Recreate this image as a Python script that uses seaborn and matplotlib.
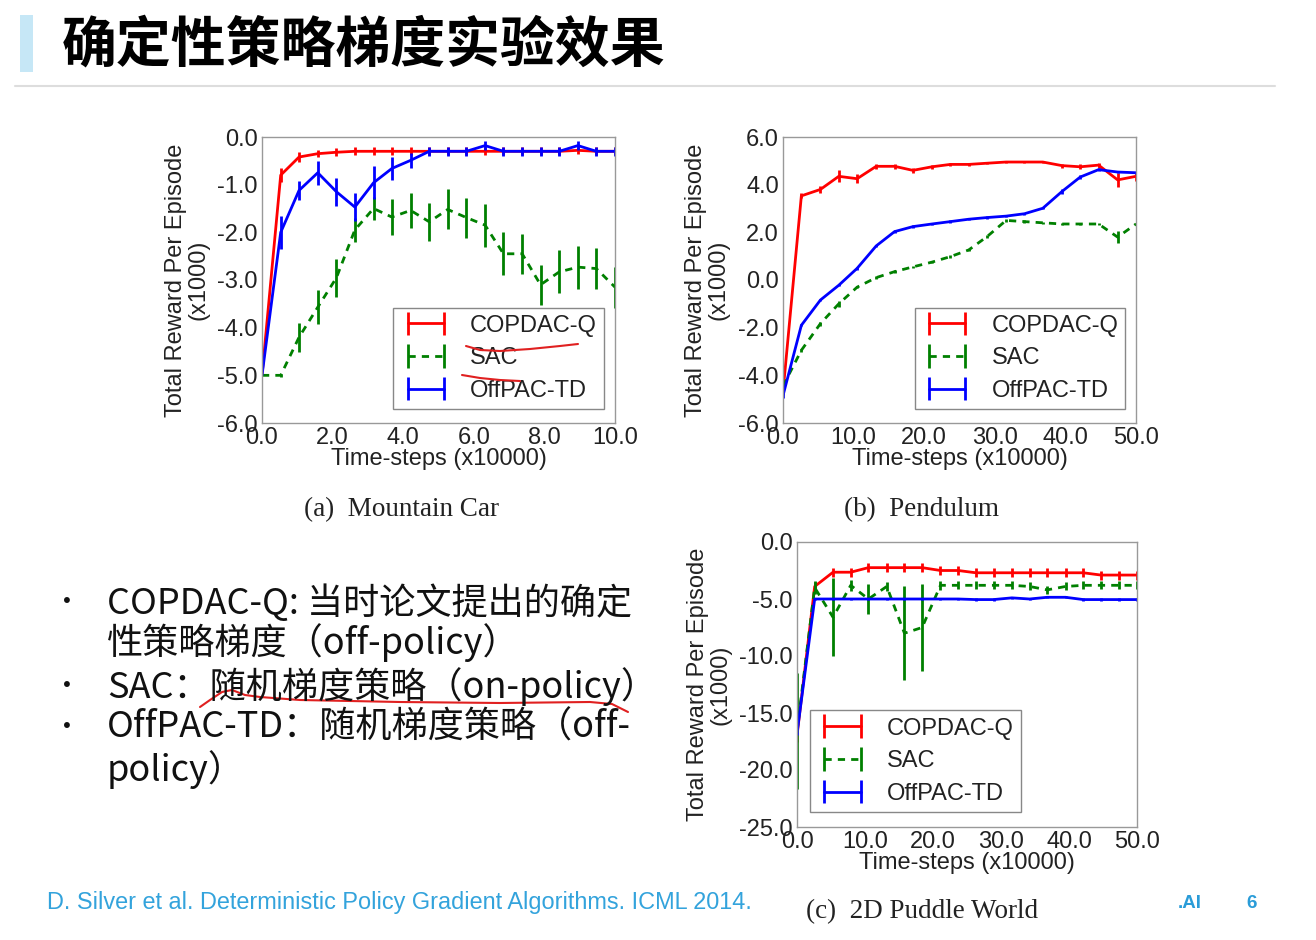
import numpy as np
import pandas as pd
import matplotlib
matplotlib.use("Agg")
import matplotlib.pyplot as plt
import seaborn as sns
from matplotlib.ticker import FormatStrFormatter
from matplotlib.lines import Line2D

# ---------------- data ----------------
methods = ["COPDAC-Q", "SAC", "OffPAC-TD"]
colors = {"COPDAC-Q": "#ff0000", "SAC": "#008000", "OffPAC-TD": "#0000ff"}

# (a) Mountain Car  (x10000 steps, x1000 reward)
mc_x = [0.0, 0.53, 1.05, 1.58, 2.11, 2.63, 3.16, 3.68, 4.21, 4.74,
        5.26, 5.79, 6.32, 6.84, 7.37, 7.89, 8.42, 8.95, 9.47, 10.0]
mc_copdac = [-5.0, -0.8, -0.42, -0.35, -0.32, -0.3, -0.3, -0.3, -0.3, -0.3,
             -0.3, -0.3, -0.3, -0.3, -0.3, -0.3, -0.3, -0.28, -0.3, -0.3]
mc_copdac_err = [0.0, 0.15, 0.1, 0.08, 0.08, 0.08, 0.08, 0.08, 0.08, 0.08,
                 0.08, 0.08, 0.08, 0.08, 0.08, 0.08, 0.08, 0.08, 0.08, 0.08]
mc_sac = [-5.0, -5.0, -4.2, -3.57, -2.95, -1.95, -1.5, -1.68, -1.54, -1.78,
          -1.52, -1.69, -1.85, -2.45, -2.45, -3.1, -2.83, -2.73, -2.76, -3.15]
mc_sac_err = [0.0, 0.03, 0.3, 0.35, 0.4, 0.25, 0.25, 0.38, 0.37, 0.4,
              0.42, 0.42, 0.45, 0.45, 0.42, 0.42, 0.45, 0.45, 0.43, 0.43]
mc_offpac = [-5.0, -2.0, -1.12, -0.75, -1.15, -1.47, -0.96, -0.66, -0.49, -0.3,
             -0.3, -0.3, -0.18, -0.3, -0.3, -0.3, -0.3, -0.18, -0.3, -0.3]
mc_offpac_err = [0.0, 0.35, 0.2, 0.25, 0.3, 0.3, 0.35, 0.25, 0.15, 0.1,
                 0.1, 0.1, 0.1, 0.1, 0.1, 0.1, 0.1, 0.1, 0.1, 0.1]

# (b) Pendulum
pd_x = [0.0, 2.6, 5.3, 7.9, 10.5, 13.2, 15.8, 18.4, 21.1, 23.7,
        26.3, 28.9, 31.6, 34.2, 36.8, 39.5, 42.1, 44.7, 47.4, 50.0]
pd_copdac = [-4.7, 3.53, 3.8, 4.35, 4.25, 4.77, 4.77, 4.6, 4.75, 4.85,
             4.85, 4.9, 4.95, 4.95, 4.95, 4.8, 4.75, 4.82, 4.2, 4.35]
pd_copdac_err = [0.1, 0.1, 0.15, 0.25, 0.2, 0.1, 0.1, 0.12, 0.08, 0.05,
                 0.05, 0.05, 0.05, 0.05, 0.05, 0.08, 0.1, 0.1, 0.3, 0.2]
pd_sac = [-4.45, -2.95, -1.83, -1.0, -0.3, 0.1, 0.35, 0.55, 0.75, 0.98,
          1.26, 1.82, 2.5, 2.45, 2.4, 2.35, 2.35, 2.35, 1.8, 2.35]
pd_sac_err = [0.1, 0.05, 0.08, 0.12, 0.05, 0.05, 0.05, 0.05, 0.05, 0.05,
              0.05, 0.05, 0.05, 0.05, 0.05, 0.05, 0.05, 0.05, 0.25, 0.05]
pd_offpac = [-4.85, -1.9, -0.84, -0.22, 0.49, 1.43, 2.03, 2.24, 2.35, 2.45,
             2.55, 2.62, 2.68, 2.78, 3.01, 3.71, 4.32, 4.63, 4.53, 4.5]
pd_offpac_err = [0.1, 0.05, 0.05, 0.05, 0.05, 0.05, 0.05, 0.05, 0.05, 0.05,
                 0.05, 0.05, 0.05, 0.05, 0.05, 0.12, 0.1, 0.05, 0.05, 0.05]

# (c) 2D Puddle World
pw_x = pd_x
pw_copdac = [-17.0, -3.9, -2.65, -2.65, -2.25, -2.25, -2.25, -2.25, -2.5, -2.5,
             -2.7, -2.7, -2.7, -2.7, -2.7, -2.7, -2.7, -2.9, -2.9, -2.9]
pw_copdac_err = [0.5, 0.4, 0.4, 0.4, 0.4, 0.4, 0.4, 0.4, 0.4, 0.4,
                 0.4, 0.4, 0.4, 0.4, 0.4, 0.4, 0.4, 0.4, 0.4, 0.4]
pw_sac = [-16.6, -4.0, -6.6, -3.8, -5.0, -3.9, -8.0, -7.5, -3.8, -3.8,
          -3.8, -3.8, -3.8, -3.9, -4.2, -3.9, -3.8, -3.8, -3.8, -3.8]
pw_sac_err = [5.1, 0.6, 3.4, 0.5, 1.3, 0.4, 4.1, 3.8, 0.4, 0.35,
              0.35, 0.35, 0.35, 0.35, 0.35, 0.35, 0.35, 0.35, 0.35, 0.35]
pw_offpac = [-16.8, -5.0, -5.0, -5.0, -5.0, -5.0, -5.0, -5.0, -5.0, -5.0,
             -5.05, -5.05, -4.9, -5.0, -4.85, -4.85, -5.05, -5.05, -5.05, -5.05]
pw_offpac_err = [0.1] * 20

mc_yticks = [0.0, -1.0, -2.0, -3.0, -4.0, -5.0, -6.0]
mc_xticks = [0.0, 2.0, 4.0, 6.0, 8.0, 10.0]
pd_yticks = [6.0, 4.0, 2.0, 0.0, -2.0, -4.0, -6.0]
pd_xticks = [0.0, 10.0, 20.0, 30.0, 40.0, 50.0]
pw_yticks = [0.0, -5.0, -10.0, -15.0, -20.0, -25.0]
pw_xticks = pd_xticks

title = "确定性策略梯度实验效果"
bullets = [("COPDAC-Q: 当时论文提出的确定", True),
           ("性策略梯度（off-policy）", False),
           ("SAC：随机梯度策略（on-policy）", True),
           ("OffPAC-TD：随机梯度策略（off-", True),
           ("policy）", False)]
footer = "D. Silver et al. Deterministic Policy Gradient Algorithms. ICML 2014."

# ---------------- style ----------------
sns.set_theme(style="white")
plt.rcParams["font.family"] = ["Liberation Sans", "Noto Sans CJK SC", "DejaVu Sans"]
plt.rcParams["axes.unicode_minus"] = False

W, H = 1316, 940
fig = plt.figure(figsize=(W / 100, H / 100), dpi=100)
fig.patch.set_facecolor("white")

FS = 17


def px_rect(l, t, r, b):
    return [l / W, 1 - b / H, (r - l) / W, (b - t) / H]


def panel(rect, x, series, xticks, yticks, leg_loc, leg_anchor, ylab_x):
    ax = fig.add_axes(rect)
    handles = []
    for name in methods:
        y, e = series[name]
        df = pd.DataFrame({"t": x, "r": y})
        ls = (0, (2.6, 2.2)) if name == "SAC" else "-"
        sns.lineplot(data=df, x="t", y="r", ax=ax, color=colors[name],
                     linewidth=2, linestyle=ls, estimator=None,
                     errorbar=None, sort=False, legend=False)
        ax.errorbar(x, y, yerr=e, fmt="none", ecolor=colors[name],
                    elinewidth=2, capsize=0)
        h = ax.errorbar([], [], yerr=[], color=colors[name], linestyle=ls,
                        linewidth=2, elinewidth=2, capsize=0)
        handles.append(h)
    ax.set_xlim(xticks[0], xticks[-1])
    ax.set_ylim(min(yticks), max(yticks))
    ax.set_xticks(xticks)
    ax.set_yticks(yticks)
    ax.xaxis.set_major_formatter(FormatStrFormatter("%.1f"))
    ax.yaxis.set_major_formatter(FormatStrFormatter("%.1f"))
    ax.tick_params(labelsize=FS, colors="#222222", direction="in",
                   length=4, width=0.8, pad=3)
    ax.tick_params(axis="both", color="#888888")
    for s in ax.spines.values():
        s.set_color("#999999")
        s.set_linewidth(1.0)
    ax.set_xlabel("Time-steps (x10000)", fontsize=FS, color="#222222", labelpad=-1)
    ax.set_ylabel("Total Reward Per Episode\n(x1000)", fontsize=FS,
                  color="#222222", linespacing=1.05)
    ax.yaxis.set_label_coords(ylab_x, 0.5)
    ax.yaxis.label.set_verticalalignment("center")
    leg = ax.legend(handles, methods, loc=leg_loc, bbox_to_anchor=leg_anchor,
                    borderaxespad=0, numpoints=2, fontsize=FS, frameon=True,
                    fancybox=False, framealpha=1, edgecolor="#888888",
                    handlelength=2.15, handletextpad=0.8, labelspacing=0.45,
                    borderpad=0.3)
    leg.get_frame().set_linewidth(1.0)
    for t in leg.get_texts():
        t.set_color("#222222")
    return ax


panel(px_rect(262, 137, 615, 423), mc_x,
      {"COPDAC-Q": (mc_copdac, mc_copdac_err), "SAC": (mc_sac, mc_sac_err),
       "OffPAC-TD": (mc_offpac, mc_offpac_err)},
      mc_xticks, mc_yticks, "lower right", (0.969, 0.049), -0.212)
panel(px_rect(783, 137, 1136, 423), pd_x,
      {"COPDAC-Q": (pd_copdac, pd_copdac_err), "SAC": (pd_sac, pd_sac_err),
       "OffPAC-TD": (pd_offpac, pd_offpac_err)},
      pd_xticks, pd_yticks, "lower right", (0.97, 0.049), -0.215)
panel(px_rect(797, 542, 1137, 827), pw_x,
      {"COPDAC-Q": (pw_copdac, pw_copdac_err), "SAC": (pw_sac, pw_sac_err),
       "OffPAC-TD": (pw_offpac, pw_offpac_err)},
      pw_xticks, pw_yticks, "lower left", (0.038, 0.053), -0.258)

# captions
serif = ["Liberation Serif", "DejaVu Serif"]
for txt, cx, cy in [("(a)  Mountain Car", 402, 510), ("(b)  Pendulum", 922, 510),
                    ("(c)  2D Puddle World", 922, 912)]:
    fig.text(cx / W, 1 - cy / H, txt, ha="center", va="center",
             fontsize=19.5, family=serif, color="#222222")

# title area
fig.add_artist(plt.Rectangle((20 / W, 1 - 72 / H), 13 / W, 57 / H,
                             transform=fig.transFigure, color="#c6e7f6", lw=0))
fig.text(62 / W, 1 - 45 / H, title, ha="left", va="center", fontsize=39.5,
         fontweight="bold", family=["Noto Sans CJK SC", "DejaVu Sans"], color="black")
fig.add_artist(Line2D([15 / W, 1275 / W], [1 - 86 / H, 1 - 86 / H],
                      transform=fig.transFigure, color="#dddddd", lw=1.5))

# bullet text
ys = [603, 643, 687, 728, 770]
for (txt, has_bullet), y in zip(bullets, ys):
    if has_bullet:
        fig.text(67 / W, 1 - y / H, "•", ha="center", va="center", fontsize=20,
                 family=["Noto Sans CJK SC", "DejaVu Sans"], color="#111111")
    fig.text(107 / W, 1 - y / H, txt, ha="left", va="center", fontsize=26,
             family=["Noto Sans CJK SC", "DejaVu Sans"], color="#111111")

# footer
fig.text(47 / W, 1 - 903 / H, footer, ha="left", va="center", fontsize=16.9,
         color="#33a3dc")
fig.text(1178 / W, 1 - 903 / H, ".AI", ha="left", va="center", fontsize=13.5,
         fontweight="bold", color="#2a9cd8")
fig.text(1252 / W, 1 - 903 / H, "6", ha="center", va="center", fontsize=13.5,
         fontweight="bold", color="#2a9cd8")

# red hand-drawn annotation strokes
strokes = [
    [(466, 346), (480, 350), (500, 351), (530, 349), (560, 346), (578, 344)],
    [(462, 375), (480, 378), (500, 380), (520, 381)],
    [(200, 707), (210, 700), (222, 692), (232, 690), (245, 695), (260, 697),
     (300, 700), (400, 702), (500, 703), (590, 702), (612, 704), (628, 712)],
]
for s in strokes:
    xs = [p[0] / W for p in s]
    yv = [1 - p[1] / H for p in s]
    fig.add_artist(Line2D(xs, yv, transform=fig.transFigure, color="#e02020", lw=1.5))

fig.savefig("out.png", dpi=100, facecolor="white")
